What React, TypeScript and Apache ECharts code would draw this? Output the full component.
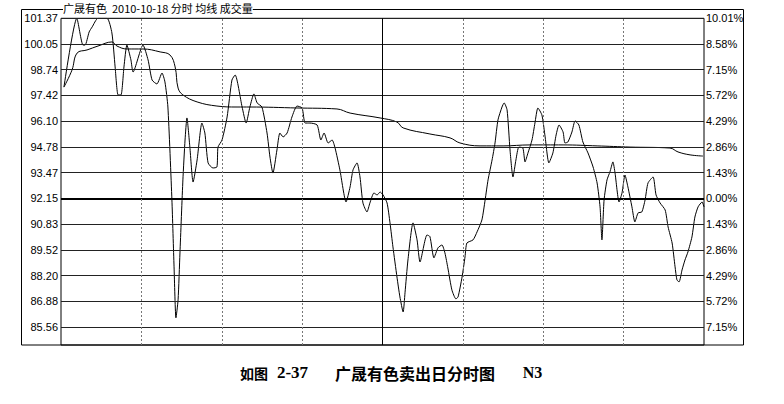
import React, { useEffect, useRef } from "react";
import * as echarts from "echarts";

const preClose = 92.15;
const yMin = 84.65;
const yMax = 101.37;
const priceTicks = [101.37, 100.05, 98.74, 97.42, 96.1, 94.78, 93.47, 92.15, 90.83, 89.52, 88.2, 86.88, 85.56];
const pctTicks = ["10.01%", "8.58%", "7.15%", "5.72%", "4.29%", "2.86%", "1.43%", "0.00%", "1.43%", "2.86%", "4.29%", "5.72%", "7.15%"];
const halfHourMarks = [30, 60, 90, 150, 180, 210];
const middayMark = 120;
const chartTitle = "广晟有色  2010-10-18 分时 均线 成交量";
const captionA = "如图";
const captionB = "2-37";
const captionC = "广晟有色卖出日分时图";
const captionD = "N3";

// [minute since 9:30, price]
const priceTrace: [number, number][] = [
  [1.1, 97.85], [5.9, 101.37], [8.2, 100.0], [9.0, 100.0], [10.5, 100.67], [11.6, 100.92],
  [13.8, 101.37], [17.2, 101.37], [19.0, 100.62], [20.2, 98.88], [21.3, 97.45], [22.4, 97.45],
  [23.5, 98.88], [24.6, 100.0], [26.1, 99.24], [26.9, 98.62], [30.6, 100.0], [32.5, 99.24],
  [34.0, 98.21], [35.8, 98.01], [37.7, 98.57], [38.8, 98.11], [39.9, 96.83], [41.4, 92.07],
  [42.2, 88.65], [42.9, 86.04], [43.7, 86.96], [44.4, 89.36], [45.5, 93.1], [46.3, 95.14],
  [47.0, 96.27], [48.1, 94.78], [49.3, 92.99], [50.8, 94.12], [52.6, 96.01], [53.7, 95.5],
  [54.9, 93.97], [56.7, 93.71], [58.2, 93.76], [58.6, 94.78], [60.1, 95.14], [62.0, 96.32],
  [63.8, 98.21], [65.0, 98.47], [67.6, 96.83], [69.1, 96.01], [70.5, 96.83], [72.0, 97.5],
  [73.2, 97.04], [75.0, 96.83], [76.9, 95.5], [78.0, 94.27], [79.1, 93.45], [80.6, 94.63],
  [81.7, 95.5], [82.9, 95.3], [84.4, 95.5], [86.2, 96.32], [88.1, 96.88], [90.0, 96.78],
  [91.1, 96.01], [92.9, 96.01], [95.6, 95.91], [97.0, 95.14], [98.2, 95.5], [99.7, 94.99],
  [101.2, 95.14], [102.3, 94.73], [104.1, 93.61], [106.4, 91.97], [107.9, 92.74], [109.0, 93.61],
  [110.5, 93.97], [111.6, 93.25], [112.7, 91.92], [114.2, 91.46], [115.3, 91.92], [116.8, 92.43],
  [118.0, 92.33], [119.1, 92.48], [120.2, 92.33], [121.7, 91.92], [122.8, 90.9], [123.9, 89.67],
  [125.4, 88.13], [126.5, 87.11], [127.7, 86.34], [128.4, 87.32], [129.5, 89.0], [131.4, 90.9],
  [132.9, 90.03], [134.0, 88.9], [136.6, 90.28], [137.7, 90.2], [139.2, 89.11], [140.7, 89.62],
  [142.2, 89.77], [143.3, 89.36], [144.4, 88.59], [145.9, 87.47], [147.4, 87.01], [148.2, 87.11],
  [149.7, 88.13], [150.8, 89.16], [151.5, 89.87], [153.8, 90.03], [155.3, 90.44], [157.1, 91.05],
  [158.3, 92.07], [159.4, 93.1], [160.9, 94.12], [162.0, 94.99], [163.1, 96.17], [164.6, 96.83],
  [165.4, 97.04], [166.5, 96.68], [167.6, 94.63], [168.7, 93.25], [169.8, 94.12], [170.9, 94.78],
  [172.4, 94.73], [173.2, 94.02], [174.3, 94.48], [175.8, 95.14], [176.9, 96.01], [178.0, 96.78],
  [179.5, 96.42], [180.7, 95.3], [182.1, 93.97], [183.6, 94.48], [184.8, 95.4], [185.9, 95.91],
  [187.4, 95.55], [188.1, 94.99], [189.2, 95.04], [190.7, 95.55], [191.9, 96.12], [193.3, 95.91],
  [194.8, 95.04], [196.7, 94.48], [198.6, 93.76], [200.1, 92.94], [201.2, 91.72], [201.9, 90.03],
  [202.7, 92.07], [203.8, 93.1], [204.9, 93.51], [206.0, 94.02], [206.8, 93.45], [208.3, 91.97],
  [209.4, 92.43], [210.5, 93.35], [211.6, 92.74], [213.1, 91.72], [214.2, 90.95], [215.4, 91.41],
  [216.8, 91.46], [218.0, 92.07], [219.1, 92.94], [221.0, 93.25], [222.1, 92.33], [223.6, 91.92],
  [225.5, 91.56], [226.6, 90.69], [228.1, 89.87], [229.2, 88.65], [229.9, 87.98], [230.7, 87.88],
  [231.8, 88.49], [232.9, 89.0], [234.0, 89.41], [235.5, 90.18], [236.6, 91.2], [237.8, 91.72],
  [239.3, 91.97], [240.0, 91.72],
];

// [minute since 9:30, average price]
const avgTrace: [number, number][] = [
  [1.1, 97.85], [4.1, 98.72], [6.0, 99.59], [9.7, 99.75], [13.8, 99.95], [19.0, 100.16],
  [20.9, 99.95], [24.6, 99.8], [30.6, 99.8], [37.0, 99.65], [40.7, 99.49], [42.6, 98.88],
  [43.7, 97.8], [45.5, 97.45], [50.8, 97.09], [58.2, 96.88], [65.7, 96.83], [70.5, 96.83],
  [88.1, 96.78], [103.0, 96.73], [107.9, 96.52], [119.1, 96.27], [125.4, 96.06], [127.7, 95.76],
  [137.7, 95.45], [145.2, 95.25], [148.9, 94.99], [156.4, 94.84], [165.0, 94.84], [175.1, 94.89],
  [187.4, 94.89], [200.1, 94.84], [212.4, 94.78], [227.3, 94.73], [230.3, 94.53], [234.8, 94.38],
  [239.6, 94.32],
];

const pctLabelFor = (v: number) => {
  const i = priceTicks.findIndex((t) => Math.abs(t - v) < 0.005);
  return i >= 0 ? pctTicks[i] : "";
};

export default function App() {
  const ref = useRef<HTMLDivElement>(null);
  useEffect(() => {
    if (!ref.current) return;
    const chart = echarts.init(ref.current, undefined, { renderer: "svg" });
    const labelFont = "Liberation Sans, Arial, sans-serif";
    const gridMarks: any[] = [
      ...priceTicks.map((v) => ({
        yAxis: v,
        lineStyle: v === preClose
          ? { color: "#000", width: 2, type: "solid" }
          : { color: "#222", width: 1, type: "solid" },
      })),
      ...halfHourMarks.map((m) => ({
        xAxis: m,
        lineStyle: { color: "#777", width: 1, type: [2, 2] },
      })),
      { xAxis: middayMark, lineStyle: { color: "#000", width: 1, type: "solid" } },
    ];
    chart.setOption({
      animation: false,
      backgroundColor: "#fff",
      grid: {
        left: 61, top: 18.3, width: 643, height: 326.7,
        containLabel: false, outerBoundsMode: "none",
        show: true, borderColor: "#000", borderWidth: 1, backgroundColor: "transparent",
      },
      xAxis: { type: "value", min: 0, max: 240, show: false },
      yAxis: [
        {
          type: "value", min: yMin, max: yMax, position: "left",
          axisLine: { show: false }, axisTick: { show: false }, splitLine: { show: false },
          axisLabel: {
            customValues: priceTicks,
            formatter: (v: number) => v.toFixed(2),
            color: "#000", fontSize: 11, fontFamily: labelFont, margin: 3,
          },
        },
        {
          type: "value", min: yMin, max: yMax, position: "right",
          axisLine: { show: false }, axisTick: { show: false }, splitLine: { show: false },
          axisLabel: {
            customValues: priceTicks,
            formatter: (v: number) => pctLabelFor(v),
            color: "#000", fontSize: 11, fontFamily: labelFont, margin: 2,
          },
        },
      ],
      series: [
        {
          name: "均线", type: "line", data: avgTrace, showSymbol: false, symbol: "none",
          smooth: 0.4, lineStyle: { color: "#000", width: 1 }, silent: true,
          markLine: {
            silent: true, symbol: ["none", "none"], label: { show: false },
            emphasis: { disabled: true }, data: gridMarks,
          },
        },
        {
          name: "分时", type: "line", data: priceTrace, showSymbol: false, symbol: "none",
          smooth: 0.2, lineStyle: { color: "#000", width: 1 }, silent: true,
        },
      ],
      graphic: [
        {
          type: "rect", silent: true, z: 1,
          shape: { x: 21.5, y: 9.5, width: 722, height: 335.5 },
          style: { fill: "none", stroke: "#000", lineWidth: 1 },
        },
        {
          type: "text", x: 63, y: 8, z: 2, silent: true,
          style: {
            text: chartTitle, fill: "#000", fontSize: 11, backgroundColor: "#fff",
            fontFamily: "Noto Sans CJK SC", align: "left", verticalAlign: "middle",
          },
        },
        {
          type: "text", x: 240, y: 372.5, silent: true,
          style: {
            text: captionA, fill: "#000", fontSize: 14, fontWeight: "bold",
            fontFamily: "Noto Sans CJK SC", align: "left", verticalAlign: "middle",
          },
        },
        {
          type: "text", x: 292.5, y: 372.5, silent: true,
          style: {
            text: captionB, fill: "#000", fontSize: 17, fontWeight: "bold",
            fontFamily: "Liberation Serif", align: "center", verticalAlign: "middle",
          },
        },
        {
          type: "text", x: 415, y: 372.5, silent: true,
          style: {
            text: captionC, fill: "#000", fontSize: 16, fontWeight: "bold",
            fontFamily: "Noto Sans CJK SC", align: "center", verticalAlign: "middle",
          },
        },
        {
          type: "text", x: 532.5, y: 372.5, silent: true,
          style: {
            text: captionD, fill: "#000", fontSize: 16, fontWeight: "bold",
            fontFamily: "Liberation Serif", align: "center", verticalAlign: "middle",
          },
        },
      ],
    });
    return () => chart.dispose();
  }, []);
  return (
    <div
      ref={ref}
      style={{ position: "absolute", left: 0, top: 0, width: 784, height: 404 }}
    />
  );
}
